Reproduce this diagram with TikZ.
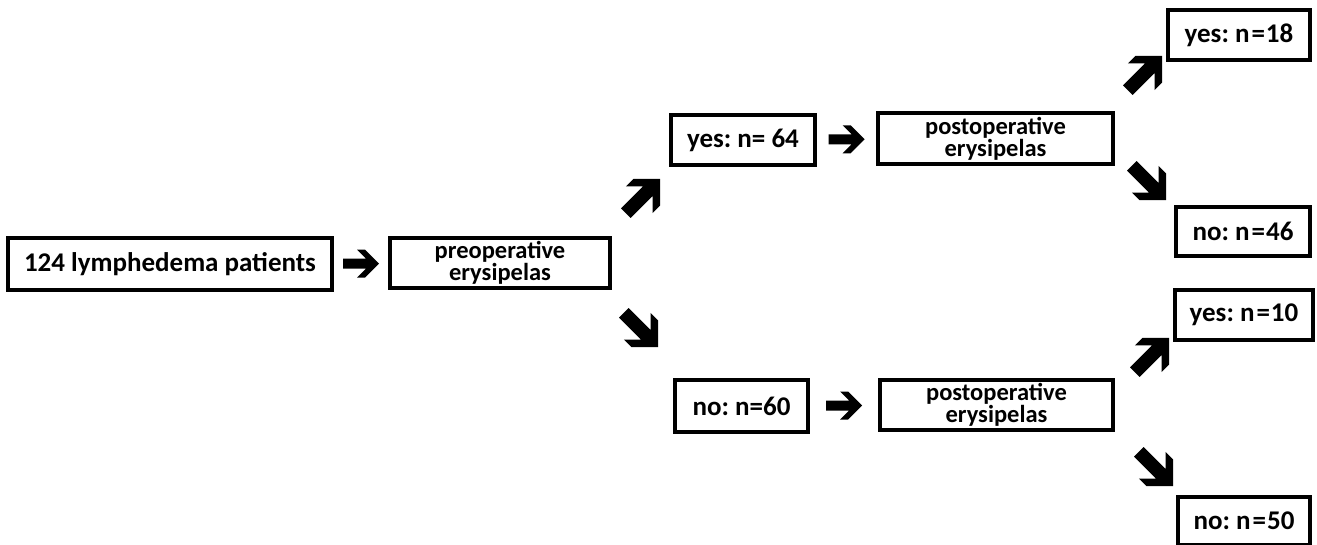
\documentclass[tikz,border=0pt]{standalone}
\usepackage{fontspec}
\setmainfont{Carlito}
\usetikzlibrary{calc}
\begin{document}
\frenchspacing
\begin{tikzpicture}[x=1pt,y=-1pt,
  box/.style={draw=black, line width=3.6pt, fill=white, inner sep=0pt, align=center, font=\frenchspacing\bfseries\fontsize{27}{28}\selectfont},
  box2/.style={box, font=\frenchspacing\bfseries\fontsize{24.5}{17.5}\selectfont},
  blockarrow/.pic={\fill[black] (-18,5) -- (5,5) -- (-4,14) -- (4,14) -- (18,0) -- (4,-14) -- (-4,-14) -- (5,-5) -- (-18,-5) -- cycle;}
]
\useasboundingbox (0,0) rectangle (1317,544);
\node[box, minimum width=324pt, minimum height=52pt] (b1) at (170,264) {124 lymphedema patients};
\node[box2, minimum width=220pt, minimum height=50pt] (b2) at (500,263) {preoperative\\erysipelas};
\node[box, minimum width=144pt, minimum height=50pt] (y64) at (743,140) {yes: n= 64};
\node[box2, minimum width=235pt, minimum height=51pt] (p1) at (995.5,138.5) {postoperative\\erysipelas};
\node[box, minimum width=142pt, minimum height=50pt] (y18) at (1239,35) {yes: n\kern2pt=\kern1pt18};
\node[box, minimum width=134pt, minimum height=49pt] (n46) at (1243,231.5) {no: n\kern2pt=\kern1pt46};
\node[box, minimum width=133pt, minimum height=52pt] (n60) at (741.5,406) {no: n=60};
\node[box2, minimum width=233pt, minimum height=50pt] (p2) at (996.5,405) {postoperative\\erysipelas};
\node[box, minimum width=138pt, minimum height=50pt] (y10) at (1244,315) {yes: n\kern2pt=\kern1pt10};
\node[box, minimum width=132pt, minimum height=48pt] (n50) at (1244,521) {no: n\kern2pt=\kern1pt50};
% block arrows
\pic at ($(b1.east)!0.5!(b2.west)$) {blockarrow};
\pic at ($(y64.east)!0.5!(p1.west)$) {blockarrow};
\pic at ($(n60.east)!0.5!(p2.west)$) {blockarrow};
\pic[rotate=45, scale=1.35] at (643,196) {blockarrow};
\pic[rotate=-45, scale=1.35] at (641,330) {blockarrow};
\pic[rotate=45, scale=1.35] at (1145,73) {blockarrow};
\pic[rotate=-45, scale=1.35] at (1149,183) {blockarrow};
\pic[rotate=45, scale=1.35] at (1152,355) {blockarrow};
\pic[rotate=-45, scale=1.35] at (1156,469) {blockarrow};
\end{tikzpicture}
\end{document}
